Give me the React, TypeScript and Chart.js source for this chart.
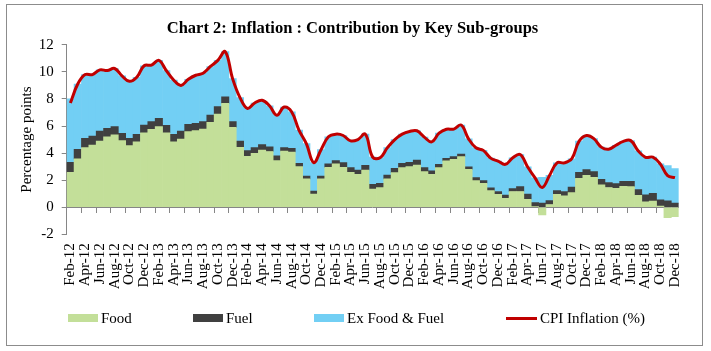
import React, { useEffect, useRef } from "react";
import { Chart, registerables } from "chart.js";

Chart.register(...registerables);

const labels = [
  "Feb-12", "Mar-12", "Apr-12", "May-12", "Jun-12", "Jul-12", "Aug-12", "Sep-12", "Oct-12", "Nov-12", "Dec-12",
  "Jan-13", "Feb-13", "Mar-13", "Apr-13", "May-13", "Jun-13", "Jul-13", "Aug-13", "Sep-13", "Oct-13", "Nov-13", "Dec-13",
  "Jan-14", "Feb-14", "Mar-14", "Apr-14", "May-14", "Jun-14", "Jul-14", "Aug-14", "Sep-14", "Oct-14", "Nov-14", "Dec-14",
  "Jan-15", "Feb-15", "Mar-15", "Apr-15", "May-15", "Jun-15", "Jul-15", "Aug-15", "Sep-15", "Oct-15", "Nov-15", "Dec-15",
  "Jan-16", "Feb-16", "Mar-16", "Apr-16", "May-16", "Jun-16", "Jul-16", "Aug-16", "Sep-16", "Oct-16", "Nov-16", "Dec-16",
  "Jan-17", "Feb-17", "Mar-17", "Apr-17", "May-17", "Jun-17", "Jul-17", "Aug-17", "Sep-17", "Oct-17", "Nov-17", "Dec-17",
  "Jan-18", "Feb-18", "Mar-18", "Apr-18", "May-18", "Jun-18", "Jul-18", "Aug-18", "Sep-18", "Oct-18", "Nov-18", "Dec-18",
];

const food = [
  2.58, 3.57, 4.4, 4.6, 4.89, 5.21, 5.34, 4.92, 4.55, 4.84, 5.5,
  5.75, 5.95, 5.5, 4.84, 5.04, 5.58, 5.66, 5.78, 6.27, 6.88, 7.67, 5.9,
  4.43, 3.76, 3.98, 4.23, 4.12, 3.44, 4.15, 4.08, 3.0, 2.09, 0.98, 2.09,
  2.95, 3.2, 2.95, 2.58, 2.43, 2.75, 1.35, 1.45, 2.09, 2.56, 2.93, 3.0,
  3.12, 2.63, 2.43, 2.93, 3.42, 3.54, 3.74, 2.8, 1.97, 1.77, 1.23, 0.96,
  0.66, 1.16, 1.16, 0.59, 0.05, -0.57, 0.2, 0.96, 0.84, 1.08, 2.14, 2.35,
  2.2, 1.65, 1.46, 1.4, 1.55, 1.52, 0.88, 0.4, 0.45, 0.08, -0.77, -0.7,
];

const fuel = [
  0.74, 0.71, 0.69, 0.66, 0.74, 0.62, 0.61, 0.54, 0.54, 0.54, 0.57,
  0.57, 0.62, 0.55, 0.54, 0.59, 0.54, 0.54, 0.54, 0.54, 0.55, 0.49, 0.42,
  0.46, 0.42, 0.42, 0.39, 0.35, 0.35, 0.25, 0.27, 0.25, 0.22, 0.22, 0.22,
  0.25, 0.24, 0.35, 0.35, 0.32, 0.35, 0.35, 0.32, 0.29, 0.32, 0.32, 0.32,
  0.37, 0.3, 0.25, 0.24, 0.19, 0.2, 0.19, 0.18, 0.22, 0.2, 0.2, 0.2,
  0.23, 0.22, 0.36, 0.39, 0.29, 0.3, 0.29, 0.27, 0.32, 0.4, 0.44, 0.43,
  0.43, 0.42, 0.37, 0.34, 0.37, 0.4, 0.42, 0.51, 0.58, 0.46, 0.48, 0.3,
];

const exFoodFuel = [
  4.68, 4.82, 4.71, 4.54, 4.52, 4.27, 4.3, 4.24, 4.21, 4.22, 4.38,
  4.18, 4.28, 4.05, 4.02, 3.37, 3.33, 3.55, 3.58, 3.59, 3.42, 3.34, 3.18,
  3.21, 3.12, 3.3, 3.28, 3.03, 3.01, 3.0, 2.7, 2.45, 2.39, 2.1, 1.94,
  2.0, 1.96, 2.0, 1.97, 2.25, 2.3, 2.0, 1.88, 2.02, 2.12, 2.15, 2.28,
  2.16, 2.25, 2.15, 2.3, 2.15, 2.03, 2.14, 2.07, 2.2, 2.23, 2.2, 2.25,
  2.28, 2.27, 2.37, 2.01, 1.84, 1.9, 1.87, 2.05, 2.12, 2.1, 2.3, 2.52,
  2.44, 2.37, 2.45, 2.84, 2.95, 3.0, 2.87, 2.78, 2.67, 2.66, 2.59, 2.55,
];

const cpi = [
  7.7, 9.1, 9.8, 9.8, 10.15, 10.1, 10.25, 9.7, 9.3, 9.6, 10.45,
  10.5, 10.85, 10.1, 9.4, 9.0, 9.45, 9.75, 9.9, 10.4, 10.85, 11.5, 9.5,
  8.1, 7.3, 7.7, 7.9, 7.5, 6.8, 7.4, 7.05, 5.7, 4.7, 3.3, 4.25,
  5.2, 5.4, 5.3, 4.9, 5.0, 5.4, 3.7, 3.65, 4.4, 5.0, 5.4, 5.6,
  5.65, 5.18, 4.83, 5.47, 5.76, 5.77, 6.07, 5.05, 4.39, 4.2, 3.63, 3.41,
  3.17, 3.65, 3.89, 2.99, 2.18, 1.46, 2.36, 3.28, 3.28, 3.58, 4.88, 5.3,
  5.07, 4.44, 4.28, 4.58, 4.87, 4.92, 4.17, 3.69, 3.7, 3.2, 2.33, 2.19,
];

const yTicks = { min: -2, max: 12, step: 2 };

const FONT = "'Liberation Serif', 'Times New Roman', serif";
const GREEN = "#C3DF99";
const DARK = "#404040";
const BLUE = "#72CFF4";
const RED = "#C00000";
const AXIS = "#868686";

export default function App() {
  const ref = useRef<HTMLCanvasElement>(null);

  useEffect(() => {
    const canvas = ref.current;
    if (!canvas) return;
    const chart = new Chart(canvas, {
      type: "bar",
      data: {
        labels,
        datasets: [
          {
            type: "line",
            label: "CPI Inflation (%)",
            data: cpi,
            borderColor: RED,
            backgroundColor: RED,
            borderWidth: 3,
            pointRadius: 0,
            tension: 0.4,
            order: 0,
            stack: "cpi",
            fill: false,
          } as any,
          { label: "Food", data: food, backgroundColor: GREEN, order: 1, stack: "main" },
          { label: "Fuel", data: fuel, backgroundColor: DARK, order: 1, stack: "main" },
          { label: "Ex Food & Fuel", data: exFoodFuel, backgroundColor: BLUE, order: 1, stack: "main" },
        ],
      },
      options: {
        responsive: false,
        animation: false,
        layout: { padding: { left: 0, right: 4, top: 0, bottom: 0 } },
        datasets: {
          bar: { barPercentage: 1, categoryPercentage: 1, borderWidth: 0 },
        } as any,
        plugins: {
          legend: { display: false },
          tooltip: { enabled: false },
          title: {
            display: true,
            text: "Chart 2: Inflation : Contribution by Key Sub-groups",
            color: "#000",
            font: { family: FONT, size: 16.5, weight: "bold", lineHeight: 1.2 },
            padding: { top: 14, bottom: 6 },
          },
        },
        scales: {
          x: {
            type: "category",
            stacked: true,
            offset: true,
            grid: { display: false, drawTicks: false, offset: true },
            border: { display: false },
            ticks: {
              autoSkip: false,
              maxRotation: 90,
              minRotation: 90,
              padding: 9,
              color: "#000",
              font: { family: FONT, size: 15 },
              callback: (_v: any, i: number) => (i % 2 === 0 ? labels[i] : ""),
            },
            afterFit: (s: any) => {
              s.height = 110.7;
            },
          },
          x2: {
            type: "category",
            position: { y: 0 },
            offset: true,
            grid: {
              offset: true,
              drawOnChartArea: false,
              drawTicks: true,
              tickLength: 5,
              color: (c: any) => (c.index % 2 === 0 ? AXIS : "rgba(0,0,0,0)"),
            },
            border: { display: true, color: AXIS, width: 1 },
            ticks: { display: false },
            afterFit: (s: any) => {
              s.height = 0;
            },
          } as any,
          y: {
            stacked: true,
            min: yTicks.min,
            max: yTicks.max,
            ticks: {
              stepSize: yTicks.step,
              padding: 8,
              color: "#000",
              font: { family: FONT, size: 15 },
            },
            grid: { drawOnChartArea: false, drawTicks: true, tickLength: 5, color: AXIS },
            border: { display: true, color: AXIS, width: 1 },
            title: {
              display: true,
              text: "Percentage points",
              color: "#000",
              font: { family: FONT, size: 15 },
              padding: { top: 11, bottom: 0 },
            },
            afterFit: (s: any) => {
              s.width = 59.7;
            },
          },
        },
      } as any,
    });
    return () => chart.destroy();
  }, []);

  const legendText: React.CSSProperties = {
    position: "absolute",
    fontFamily: FONT,
    fontSize: 15,
    lineHeight: "18px",
    color: "#000",
    whiteSpace: "nowrap",
    top: 304,
  };
  const box = (left: number, color: string): React.CSSProperties => ({
    position: "absolute",
    left,
    top: 309,
    width: 30,
    height: 8,
    background: color,
  });

  return (
    <div
      style={{
        position: "absolute",
        left: 6,
        top: 4,
        width: 697,
        height: 342,
        boxSizing: "border-box",
        border: "1px solid #8c8c8c",
        background: "#fff",
      }}
    >
      <canvas ref={ref} width={695} height={340} style={{ position: "absolute", left: 0, top: 0, width: 695, height: 340 }} />
      <div style={box(61, GREEN)} />
      <div style={{ ...legendText, left: 94 }}>Food</div>
      <div style={box(186, DARK)} />
      <div style={{ ...legendText, left: 219 }}>Fuel</div>
      <div style={box(307, BLUE)} />
      <div style={{ ...legendText, left: 340 }}>Ex Food &amp; Fuel</div>
      <div style={{ position: "absolute", left: 499, top: 311.5, width: 31, height: 3, background: RED }} />
      <div style={{ ...legendText, left: 533 }}>CPI Inflation (%)</div>
    </div>
  );
}
